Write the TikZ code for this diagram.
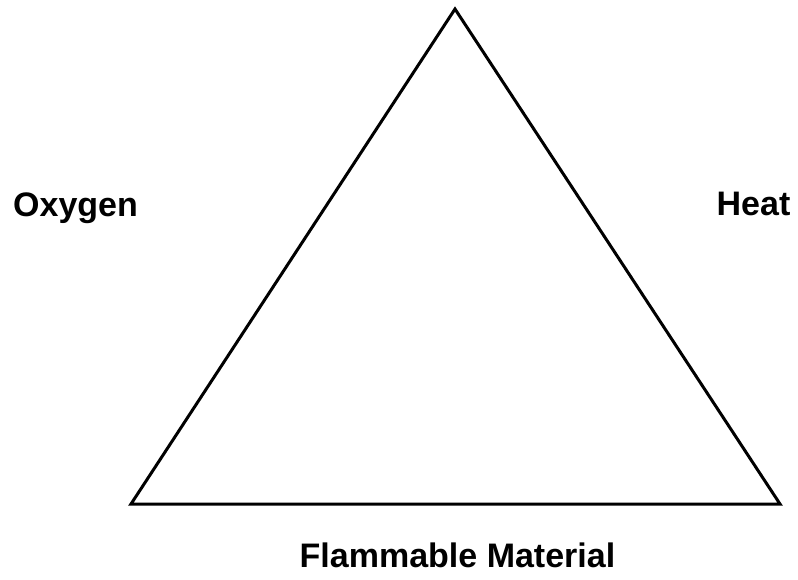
\documentclass[tikz,border=0pt]{standalone}
\usepackage{fontspec}
\setmainfont{Liberation Sans}
\begin{document}
\begin{tikzpicture}[x=1pt,y=-1pt,
  lbl/.style={font=\fontsize{34}{40}\selectfont\bfseries, inner sep=0pt, anchor=base},
  edge/.style={line width=3pt, line join=miter}]
\useasboundingbox (0,0) rectangle (798,579);
\coordinate (top) at (455,9);
\coordinate (bl) at (131,504);
\coordinate (br) at (780,504);
\draw[edge] (top) -- (br) -- (bl) -- cycle;
\node[lbl] (oxygen) at (75.5,216) {Oxygen};
\node[lbl] (heat) at (753.5,215) {Heat};
\node[lbl] (fuel) at (457.5,567) {Flammable Material};
\end{tikzpicture}
\end{document}
